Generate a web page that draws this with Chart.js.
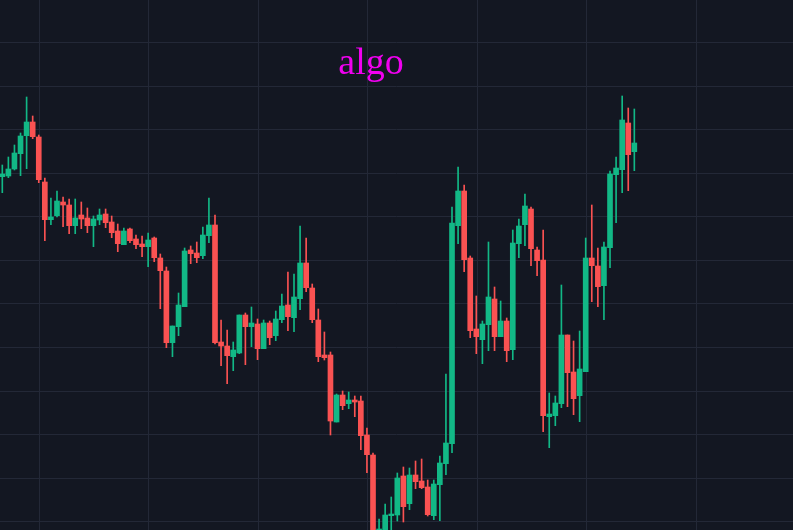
<!DOCTYPE html>
<html>
<head>
<meta charset="utf-8">
<script src="https://cdn.jsdelivr.net/npm/chart.js@4"></script>
<style>
  html, body { margin: 0; padding: 0; background: #131722; }
  #wrap { position: relative; width: 793px; height: 530px; overflow: hidden; background: #131722; }
  #title { position: absolute; left: 371px; top: 42px; transform: translateX(-50%);
           font-family: "Liberation Serif", "DejaVu Serif", serif; font-size: 38px; line-height: 38px;
           color: #f000f0; white-space: nowrap; pointer-events: none; }
</style>
</head>
<body>
<div id="wrap">
  <canvas id="c" width="793" height="530"></canvas>
  <div id="title">algo</div>
</div>
<script>
const opens  = [0.8233,0.824,0.831,0.8463,0.8643,0.878,0.863,0.818,0.7803,0.7843,
                0.798,0.795,0.7743,0.785,0.782,0.7743,0.780,0.786,0.778,0.769,
                0.7553,0.771,0.761,0.756,0.7533,0.762,0.742,0.729,0.6573,0.6733,
                0.6933,0.750,0.747,0.7443,0.7643,0.775,0.658,0.654,0.6433,0.647,
                0.685,0.6733,0.676,0.6513,0.677,0.6643,0.6803,0.695,0.6823,0.7013,
                0.737,0.712,0.680,0.645,0.645,0.578,0.605,0.5963,0.600,0.599,
                0.565,0.545,0.448,0.455,0.4843,0.485,0.524,0.4963,0.525,0.519,
                0.513,0.4843,0.5153,0.5363,0.5563,0.7743,0.809,0.742,0.671,0.6603,
                0.6753,0.701,0.6633,0.679,0.6503,0.7563,0.7753,0.791,0.750,0.740,
                0.5833,0.5843,0.5963,0.665,0.628,0.6043,0.6283,0.742,0.734,0.7143,
                0.7523,0.8253,0.8303,0.877,0.8483];
const highs  = [0.835,0.843,0.855,0.867,0.903,0.884,0.865,0.822,0.802,0.809,
                0.803,0.801,0.801,0.798,0.792,0.784,0.791,0.791,0.784,0.776,
                0.772,0.772,0.765,0.764,0.767,0.763,0.746,0.733,0.674,0.707,
                0.752,0.754,0.758,0.773,0.802,0.785,0.680,0.670,0.658,0.685,
                0.687,0.693,0.681,0.680,0.679,0.689,0.706,0.728,0.726,0.774,
                0.762,0.716,0.691,0.668,0.648,0.606,0.609,0.608,0.604,0.604,
                0.572,0.547,0.481,0.496,0.503,0.527,0.533,0.532,0.539,0.541,
                0.520,0.520,0.544,0.626,0.793,0.833,0.815,0.744,0.704,0.679,
                0.758,0.713,0.699,0.682,0.770,0.781,0.806,0.793,0.753,0.770,
                0.607,0.604,0.715,0.665,0.659,0.669,0.762,0.795,0.752,0.758,
                0.829,0.843,0.904,0.892,0.891];
const lows   = [0.8073,0.8223,0.830,0.8243,0.8313,0.8613,0.8173,0.7593,0.7753,0.783,
                0.7733,0.7663,0.7663,0.7713,0.7673,0.7533,0.7753,0.7723,0.7623,0.7483,
                0.7553,0.7573,0.7513,0.7433,0.7333,0.7383,0.6913,0.6523,0.6433,0.6643,
                0.6933,0.7363,0.7373,0.7413,0.7573,0.656,0.6343,0.6163,0.6293,0.6463,
                0.6353,0.6533,0.6403,0.6513,0.6553,0.6593,0.6773,0.6693,0.6683,0.6903,
                0.7083,0.6773,0.6383,0.640,0.565,0.578,0.5903,0.5913,0.5833,0.5503,
                0.5273,0.440,0.440,0.444,0.465,0.479,0.478,0.4903,0.5113,0.5113,
                0.484,0.4803,0.4793,0.5253,0.5473,0.7563,0.7283,0.6623,0.6463,0.6363,
                0.6493,0.6493,0.6633,0.6383,0.6403,0.7423,0.7543,0.7343,0.7243,0.5683,
                0.5523,0.5743,0.5923,0.5933,0.5853,0.5783,0.6283,0.6983,0.6933,0.6803,
                0.7323,0.7773,0.8073,0.8093,0.8293];
const closes = [0.826,0.831,0.847,0.864,0.878,0.8633,0.8203,0.7803,0.783,0.799,
                0.795,0.7743,0.782,0.781,0.7743,0.781,0.785,0.7773,0.7673,0.7563,
                0.769,0.7593,0.7553,0.7533,0.760,0.7423,0.7293,0.6573,0.674,0.695,
                0.749,0.7463,0.7423,0.765,0.775,0.6573,0.654,0.6443,0.650,0.685,
                0.6733,0.677,0.6513,0.677,0.6623,0.681,0.694,0.6833,0.703,0.737,
                0.7123,0.6803,0.6433,0.6423,0.579,0.605,0.5943,0.600,0.598,0.5643,
                0.5453,0.448,0.471,0.485,0.486,0.522,0.4933,0.525,0.5183,0.5123,
                0.4853,0.516,0.537,0.557,0.777,0.809,0.7403,0.6693,0.6633,0.676,
                0.703,0.6633,0.679,0.6493,0.757,0.774,0.794,0.7513,0.7393,0.5843,
                0.586,0.597,0.665,0.6273,0.6013,0.631,0.742,0.7343,0.7133,0.753,
                0.826,0.832,0.880,0.8453,0.857];
const candleIndex = opens.map((_, i) => i);

const UP = '#12b886', DOWN = '#fa5252';
const colors = candleIndex.map(i => closes[i] >= opens[i] ? UP : DOWN);

const bodies = candleIndex.map(i => ({ x: i, y: [opens[i], closes[i]] }));
const wicks  = candleIndex.map(i => ({ x: i, y: [lows[i], highs[i]] }));

// grid (style only)
const GRID = '#232837';
const yGridBase = 0.4783, yGridStep = 0.04355;
const xGridBase = 6.1, xGridStep = 18.02;

new Chart(document.getElementById('c'), {
  type: 'bar',
  data: {
    datasets: [
      { data: bodies, backgroundColor: colors, borderWidth: 0, barThickness: 5, grouped: false, order: 0 },
      { data: wicks,  backgroundColor: colors, borderWidth: 0, barThickness: 1, grouped: false, order: 1 }
    ]
  },
  options: {
    responsive: false,
    animation: false,
    layout: { padding: 0 },
    plugins: { legend: { display: false }, tooltip: { enabled: false }, title: { display: false } },
    scales: {
      x: {
        type: 'linear', min: -0.378, max: 130.11, offset: false,
        border: { display: false },
        grid: { color: GRID, lineWidth: 1, drawTicks: false, offset: false },
        ticks: { display: false },
        afterBuildTicks: (s) => { const t = []; for (let k = 0; k < 7; k++) t.push({ value: xGridBase + k * xGridStep }); s.ticks = t; }
      },
      y: {
        type: 'linear', min: 0.47, max: 1.0,
        border: { display: false },
        grid: { color: GRID, lineWidth: 1, drawTicks: false },
        ticks: { display: false },
        afterBuildTicks: (s) => { const t = []; for (let k = 0; k < 12; k++) t.push({ value: yGridBase + k * yGridStep }); s.ticks = t; }
      }
    }
  }
});
</script>
</body>
</html>
